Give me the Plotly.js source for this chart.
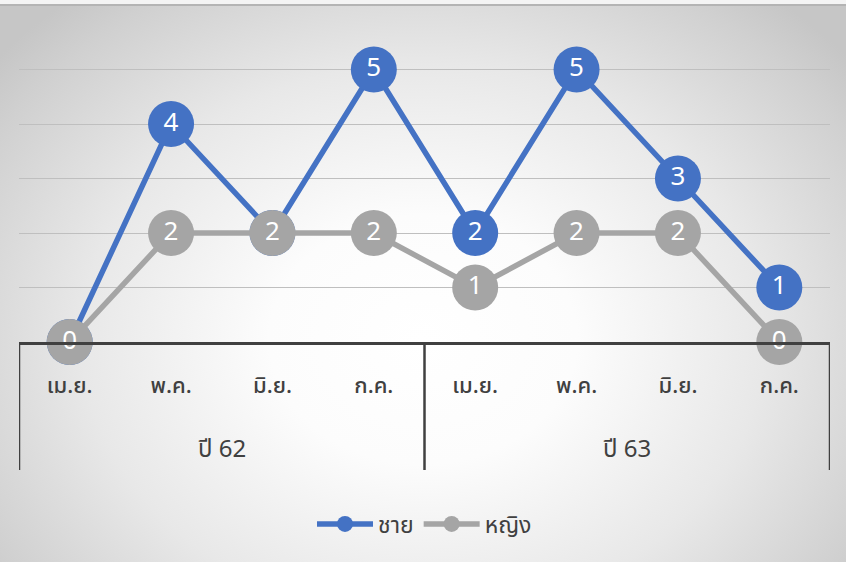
<!DOCTYPE html>
<html><head><meta charset="utf-8">
<script src="https://cdn.plot.ly/plotly-3.0.1.min.js"></script>
<style>
html,body{margin:0;padding:0;}
#wrap{width:846px;height:562px;position:relative;background:#f4f4f4;}
#chart{position:absolute;left:0;top:4px;width:846px;height:558px;border-top:2px solid #b4b4b4;box-sizing:border-box;
background:radial-gradient(ellipse 65% 80% at 50% 60%, #ffffff 0%, #fcfcfc 28%, #e8e8e8 62%, #d0d0d0 90%, #c6c6c6 100%);}
</style></head>
<body><div id="wrap"><div id="chart"></div></div>
<script>
const months = ['เม.ย.','พ.ค.','มิ.ย.','ก.ค.','เม.ย.','พ.ค.','มิ.ย.','ก.ค.'];
const years = ['ปี 62','ปี 63'];
const yearGroups = [[0,3],[4,7]];
const male = [0,4,2,5,2,5,3,1];
const female = [0,2,2,2,1,2,2,0];
const seriesNames = ['ชาย','หญิง'];
const colors = ['#4472C4','#A5A5A5'];
const xs = months.map((m,i)=>i);
const font = '"Noto Sans Thai","Noto Sans", "DejaVu Sans", sans-serif';

function traces(vals, name, color){
  return [
    {x:xs, y:vals, name:name, mode:'lines+markers', type:'scatter',
     line:{color:color,width:5.5}, marker:{color:color,size:46}, cliponaxis:false, hoverinfo:'skip'},
    {x:xs, y:vals, mode:'text', type:'scatter', text:vals.map(String), showlegend:false,
     textposition:'middle center', textfont:{color:'#ffffff',size:26,family:font}, cliponaxis:false, hoverinfo:'skip'}
  ];
}
const data = [...traces(male, seriesNames[0], colors[0]), ...traces(female, seriesNames[1], colors[1])];

const H = 556, plotTop = 9, plotBottom = 336;
const plotH = plotBottom - plotTop;
const shapes = [];
const divX = [-0.5, 3.5, 7.5];
divX.forEach(x=>shapes.push({type:'line', xref:'x', yref:'paper', x0:x, x1:x, y0:0, y1:-128/plotH, line:{color:'#404040',width:2.5}}));
const annotations = years.map((y,i)=>({
  x:(yearGroups[i][0]+yearGroups[i][1])/2, xref:'x', y:-108/plotH, yref:'paper', text:y, showarrow:false,
  font:{size:24,color:'#404040',family:font}, yanchor:'middle'
}));

const layout = {
  width:846, height:H,
  margin:{l:19, r:16, t:plotTop, b:H-plotBottom},
  paper_bgcolor:'rgba(0,0,0,0)', plot_bgcolor:'rgba(0,0,0,0)',
  showlegend:true,
  legend:{orientation:'h', x:0.5, xanchor:'center', y:-182/plotH, yanchor:'middle',
          font:{size:23,color:'#404040',family:font}, bgcolor:'rgba(0,0,0,0)', itemwidth:56},
  xaxis:{range:[-0.5,7.5], tickvals:xs, ticktext:months, showgrid:false, zeroline:false,
         showline:true, linecolor:'#404040', linewidth:2.5, ticks:'', ticklabelstandoff:22,
         tickfont:{size:22,color:'#404040',family:font,weight:500}, fixedrange:true},
  yaxis:{range:[0,6], dtick:1, showgrid:true, gridcolor:'#bfbfbf', gridwidth:1, zeroline:false,
         showticklabels:false, ticks:'', showline:false, fixedrange:true},
  shapes:shapes, annotations:annotations,
  font:{family:font}
};
Plotly.newPlot('chart', data, layout, {displayModeBar:false, staticPlot:true});
</script></body></html>
